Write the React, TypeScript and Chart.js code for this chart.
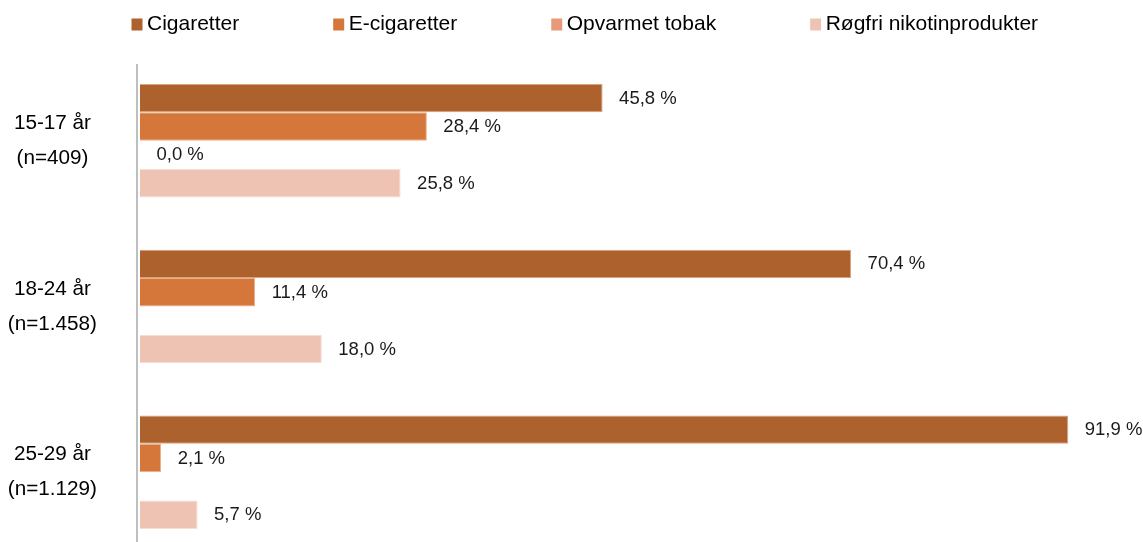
import React, { useEffect, useRef } from "react";
import { Chart, registerables } from "chart.js";

Chart.register(...registerables);

const categories: string[][] = [
  ["15-17 år", "(n=409)"],
  ["18-24 år", "(n=1.458)"],
  ["25-29 år", "(n=1.129)"],
];
const seriesNames = ["Cigaretter", "E-cigaretter", "Opvarmet tobak", "Røgfri nikotinprodukter"];
const cigaretter = [45.8, 70.4, 91.9];
const eCigaretter = [28.4, 11.4, 2.1];
const opvarmetTobak: (number | null)[] = [0.0, null, null];
const roegfriNikotin = [25.8, 18.0, 5.7];
const seriesValues = [cigaretter, eCigaretter, opvarmetTobak, roegfriNikotin];
const seriesColors = ["#AD622E", "#D5763A", "#E8997A", "#EEC3B4"];
const seriesEdges = ["#D9A27E", "#EDB08A", "#F3C4AE", "#F7DED4"];

const FONT = '"Liberation Sans", Arial, sans-serif';

const fmt = (v: number) => v.toFixed(1).replace(".", ",") + " %";

const valueLabels = {
  id: "valueLabels",
  afterDatasetsDraw(chart: any) {
    const ctx = chart.ctx;
    ctx.save();
    ctx.font = `18.5px ${FONT}`;
    ctx.fillStyle = "#1a1a1a";
    ctx.textAlign = "left";
    ctx.textBaseline = "middle";
    chart.data.datasets.forEach((ds: any, di: number) => {
      const meta = chart.getDatasetMeta(di);
      meta.data.forEach((bar: any, i: number) => {
        const v = ds.data[i];
        if (v === null || v === undefined) return;
        ctx.fillText(fmt(v), bar.x + 16.5, bar.y + 0.5);
      });
    });
    ctx.restore();
  },
};

const axisLine = {
  id: "axisLine",
  beforeDatasetsDraw(chart: any) {
    const ctx = chart.ctx;
    const x = chart.chartArea.left;
    ctx.save();
    ctx.strokeStyle = "#BFBFBF";
    ctx.lineWidth = 2;
    ctx.beginPath();
    ctx.moveTo(x, 64);
    ctx.lineTo(x, chart.height);
    ctx.stroke();
    ctx.restore();
  },
};

const customLegend = {
  id: "customLegend",
  afterDraw(chart: any) {
    const ctx = chart.ctx;
    ctx.save();
    ctx.font = `21px ${FONT}`;
    ctx.textBaseline = "middle";
    ctx.textAlign = "left";
    let x = 131.5;
    const y = 24.5;
    seriesNames.forEach((name, i) => {
      ctx.fillStyle = seriesColors[i];
      ctx.fillRect(x, y - 6, 11, 12);
      x += 11 + 4.5;
      ctx.fillStyle = "#000";
      ctx.fillText(name, x, y);
      x += ctx.measureText(name).width + 94;
    });
    ctx.restore();
  },
};

export default function App() {
  const ref = useRef<HTMLCanvasElement>(null);
  useEffect(() => {
    if (!ref.current) return;
    const chart = new Chart(ref.current, {
      type: "bar",
      data: {
        labels: categories,
        datasets: seriesNames.map((name, si) => ({
          label: name,
          data: seriesValues[si] as any,
          backgroundColor: seriesColors[si],
          borderColor: seriesEdges[si],
          borderWidth: 1,
          categoryPercentage: 0.685,
          barPercentage: 1,
        })),
      },
      options: {
        indexAxis: "y",
        animation: false,
        responsive: true,
        maintainAspectRatio: false,
        layout: { padding: { top: 57.85, right: 0, left: 0, bottom: 0 } },
        plugins: {
          legend: { display: false },
          tooltip: { enabled: false },
        },
        scales: {
          x: {
            type: "linear",
            display: false,
            min: -0.297,
            max: 99.3,
          },
          y: {
            type: "category",
            offset: true,
            grid: { display: false, drawTicks: false },
            border: { display: false },
            afterFit: (scale: any) => {
              scale.width = 137;
              scale.paddingTop = 0;
              scale.paddingBottom = 0;
            },
            ticks: {
              autoSkip: false,
              padding: 40,
              crossAlign: "center",
              color: "#000",
              font: { family: FONT, size: 20.7, lineHeight: 1.69 },
            },
          },
        },
      },
      plugins: [axisLine, valueLabels, customLegend],
    });
    return () => chart.destroy();
  }, []);
  return (
    <div style={{ position: "fixed", left: 0, top: 0, width: 1143, height: 555, background: "#fff" }}>
      <canvas ref={ref} />
    </div>
  );
}
